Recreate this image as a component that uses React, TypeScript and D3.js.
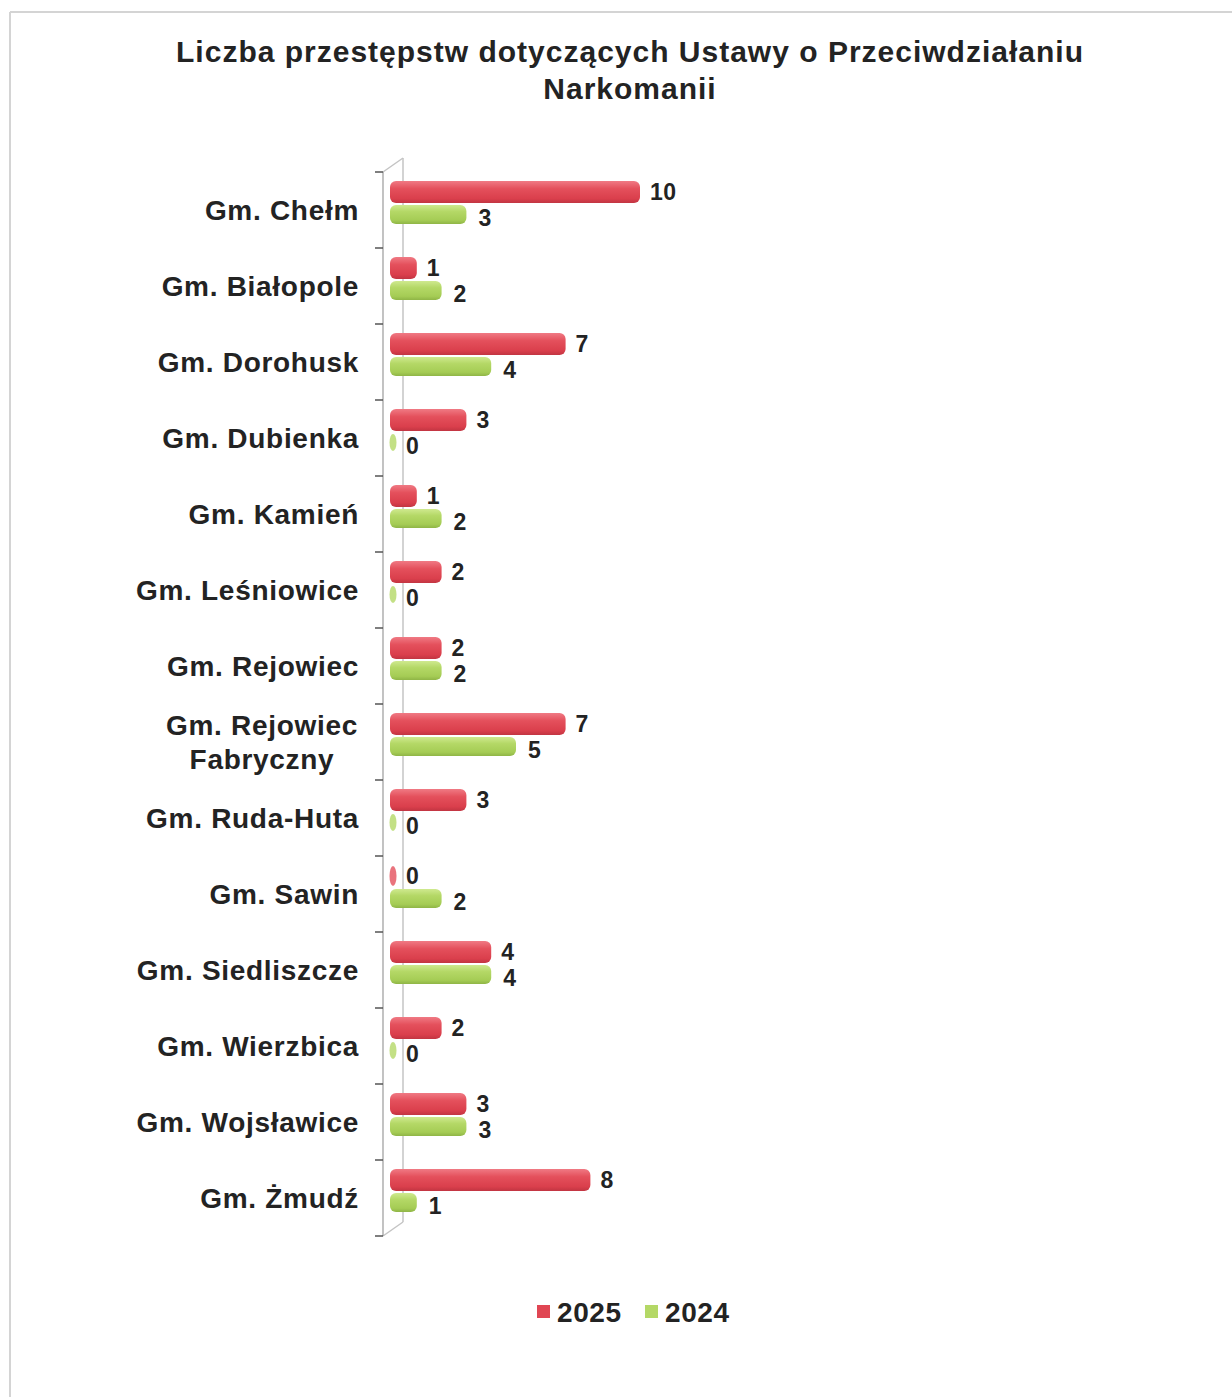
import React from "react";
import * as d3 from "d3";

const categories: string[][] = [
  ["Gm. Chełm"],
  ["Gm. Białopole"],
  ["Gm. Dorohusk"],
  ["Gm. Dubienka"],
  ["Gm. Kamień"],
  ["Gm. Leśniowice"],
  ["Gm. Rejowiec"],
  ["Gm. Rejowiec", "Fabryczny"],
  ["Gm. Ruda-Huta"],
  ["Gm. Sawin"],
  ["Gm. Siedliszcze"],
  ["Gm. Wierzbica"],
  ["Gm. Wojsławice"],
  ["Gm. Żmudź"],
];
const values2025: number[] = [10, 1, 7, 3, 1, 2, 2, 7, 3, 0, 4, 2, 3, 8];
const values2024: number[] = [3, 2, 4, 0, 2, 0, 2, 5, 0, 2, 4, 0, 3, 1];
const seriesNames: string[] = ["2025", "2024"];
const titleLines: string[] = [
  "Liczba przestępstw dotyczących Ustawy o Przeciwdziałaniu",
  "Narkomanii",
];

const W = 1232;
const H = 1397;
const FONT = "'Liberation Sans', Arial, Helvetica, sans-serif";
const TXT = "#232323";

export default function App() {
  const keys = categories.map((c) => c.join(" "));
  const y = d3.scaleBand<string>().domain(keys).range([172, 1236]).paddingInner(0);
  const x = d3.scaleLinear().domain([0, 10]).range([392, 640]);
  const bw = y.bandwidth();
  const ticks = d3.range(categories.length + 1).map((i) => 172 + i * bw);

  const bar = (v: number, yTop: number, h: number, fill: string, zeroFill: string, key: string) => {
    if (v === 0) {
      return (
        <ellipse key={key} cx={x(0) + 1} cy={yTop + h / 2} rx={3.5} ry={h / 2 - 1} fill={zeroFill} opacity={0.8} />
      );
    }
    return (
      <rect key={key} x={x(0) - 2} y={yTop} width={x(v) - x(0) + 2} height={h} rx={6} ry={6} fill={fill} />
    );
  };

  const labelProps = {
    fontFamily: FONT,
    fontWeight: "bold",
    fill: TXT,
  } as const;

  return (
    <svg
      width={W}
      height={H}
      viewBox={`0 0 ${W} ${H}`}
      style={{ position: "absolute", left: 0, top: 0, display: "block", background: "#fff" }}
    >
      <defs>
        <linearGradient id="gRed" x1="0" y1="0" x2="0" y2="1">
          <stop offset="0" stopColor="#f07a84" />
          <stop offset="0.35" stopColor="#e4505c" />
          <stop offset="0.8" stopColor="#da3f4c" />
          <stop offset="1" stopColor="#c23542" />
        </linearGradient>
        <linearGradient id="gGreen" x1="0" y1="0" x2="0" y2="1">
          <stop offset="0" stopColor="#cfe98f" />
          <stop offset="0.35" stopColor="#b4d866" />
          <stop offset="0.8" stopColor="#a5cc55" />
          <stop offset="1" stopColor="#8fb546" />
        </linearGradient>
      </defs>

      {/* outer frame */}
      <line x1={10} y1={12} x2={W} y2={12} stroke="#d4d4d4" strokeWidth={2} />
      <line x1={10} y1={12} x2={10} y2={H} stroke="#d4d4d4" strokeWidth={2} />

      {/* title */}
      <text x={630} y={62} textAnchor="middle" fontSize={30} letterSpacing={1} {...labelProps}>
        {titleLines.map((t, i) => (
          <tspan key={i} x={630} dy={i === 0 ? 0 : 37}>
            {t}
          </tspan>
        ))}
      </text>

      {/* 3D wall */}
      <line x1={403} y1={158} x2={403} y2={1222} stroke="#c4c4c4" strokeWidth={1.5} />
      <line x1={383} y1={172} x2={403} y2={158} stroke="#c4c4c4" strokeWidth={1.5} />
      <line x1={383} y1={1236} x2={403} y2={1222} stroke="#c4c4c4" strokeWidth={1.5} />
      <line x1={383} y1={172} x2={383} y2={1236} stroke="#9a9a9a" strokeWidth={1.2} />
      {ticks.map((t, i) => (
        <line key={i} x1={375} y1={t} x2={383} y2={t} stroke="#555" strokeWidth={1.5} />
      ))}

      {/* bars */}
      {keys.map((k, i) => {
        const b = y(k)!;
        const rTop = b + 9;
        const gTop = b + 33;
        return (
          <g key={k}>
            {bar(values2025[i], rTop, 22, "url(#gRed)", "#e4505c", "r")}
            {bar(values2024[i], gTop, 19, "url(#gGreen)", "#b4d866", "g")}
            <text
              x={x(values2025[i]) + (values2025[i] === 0 ? 14 : 10)}
              y={rTop + 11}
              dy="0.36em"
              fontSize={23}
              letterSpacing={0.5}
              {...labelProps}
            >
              {values2025[i]}
            </text>
            <text
              x={x(values2024[i]) + (values2024[i] === 0 ? 14 : 12)}
              y={gTop + 13}
              dy="0.36em"
              fontSize={23}
              letterSpacing={0.5}
              {...labelProps}
            >
              {values2024[i]}
            </text>
          </g>
        );
      })}

      {/* category labels */}
      {categories.map((lines, i) => {
        const c = y(keys[i])! + bw / 2;
        const lh = 34;
        const startY = c - ((lines.length - 1) * lh) / 2;
        if (lines.length === 1) {
          return (
            <text key={i} x={359} y={c} dy="0.36em" textAnchor="end" fontSize={28} letterSpacing={0.7} {...labelProps}>
              {lines[0]}
            </text>
          );
        }
        return (
          <text key={i} x={262} y={startY} textAnchor="middle" fontSize={28} letterSpacing={0.7} {...labelProps}>
            {lines.map((l, j) => (
              <tspan key={j} x={262} dy={j === 0 ? "0.36em" : lh}>
                {l}
              </tspan>
            ))}
          </text>
        );
      })}

      {/* legend */}
      <rect x={537} y={1305} width={13} height={13} fill="#e04653" />
      <text x={557} y={1312} dy="0.36em" fontSize={28} letterSpacing={0.6} {...labelProps}>
        {seriesNames[0]}
      </text>
      <rect x={645} y={1305} width={13} height={13} fill="#b4d866" />
      <text x={665} y={1312} dy="0.36em" fontSize={28} letterSpacing={0.6} {...labelProps}>
        {seriesNames[1]}
      </text>
    </svg>
  );
}
